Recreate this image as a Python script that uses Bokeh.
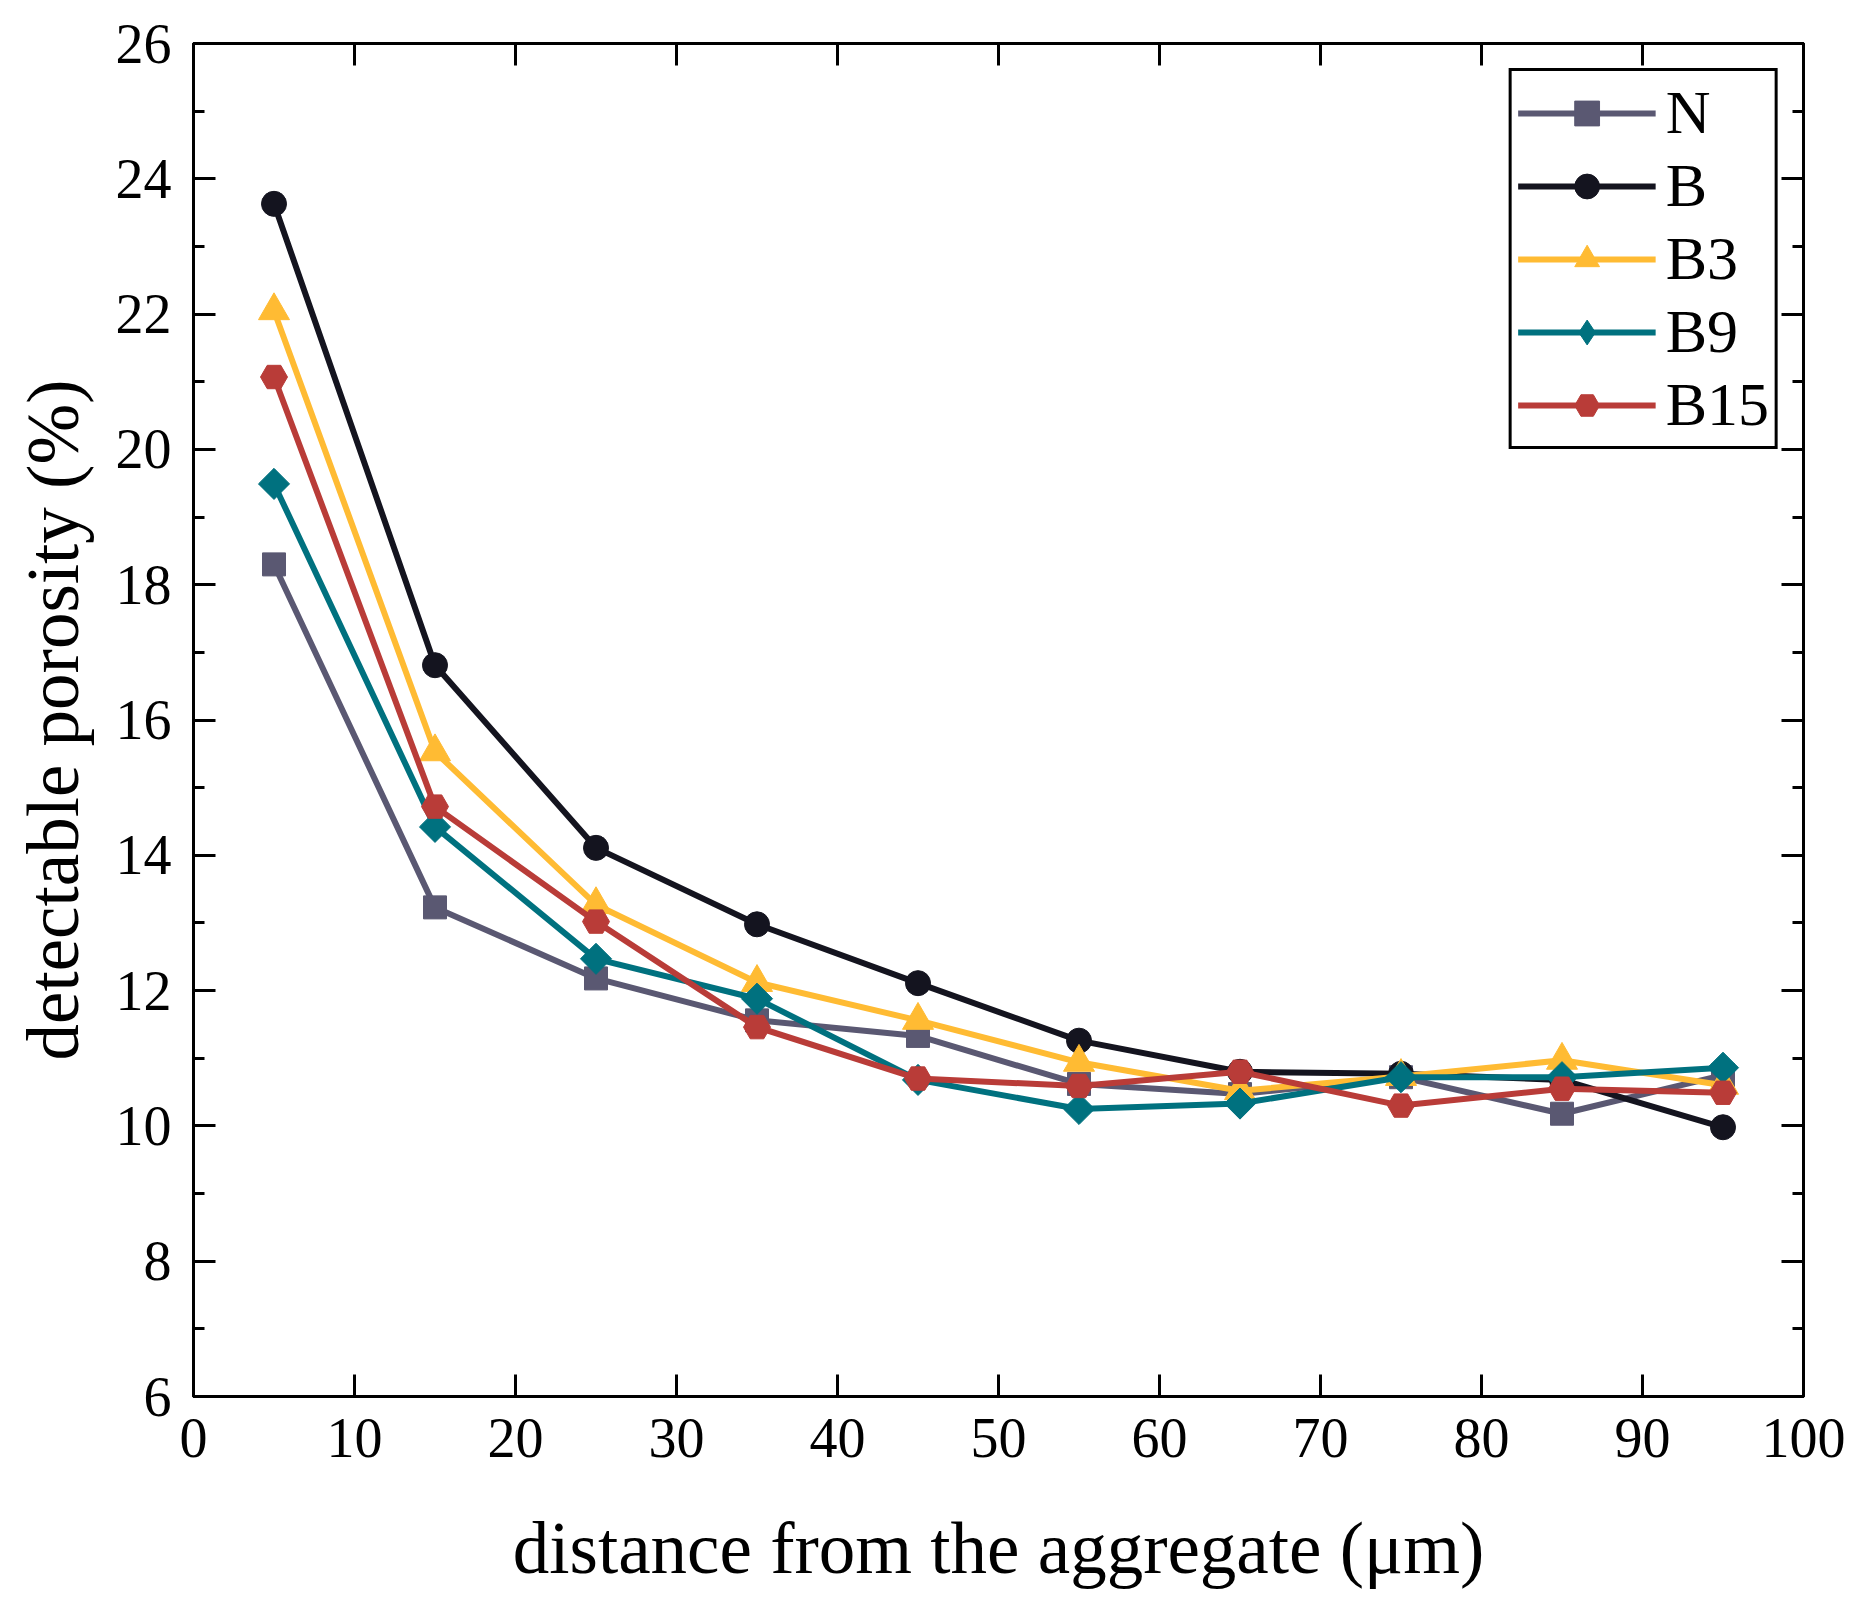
import numpy as np
from bokeh.plotting import figure
from bokeh.models import (LinearAxis, SingleIntervalTicker, Range1d, Legend,
                          CustomLabelingPolicy)
from bokeh.embed import file_html
from bokeh.resources import INLINE

# distance from the aggregate (um) and porosity (%) per mix
distance = [5, 15, 25, 35, 45, 55, 65, 75, 85, 95]
n_vals = [18.30, 13.23, 12.18, 11.56, 11.33, 10.62, 10.47, 10.72, 10.18, 10.75]
b_vals = [23.63, 16.81, 14.11, 12.98, 12.11, 11.26, 10.80, 10.77, 10.68, 9.98]
b3_vals = [22.05, 15.53, 13.27, 12.12, 11.56, 10.94, 10.52, 10.73, 10.97, 10.60]
b9_vals = [19.49, 14.42, 12.47, 11.88, 10.68, 10.25, 10.33, 10.72, 10.72, 10.86]
b15_vals = [21.07, 14.72, 13.02, 11.46, 10.70, 10.59, 10.80, 10.30, 10.55, 10.49]

# name, values, colour, marker, size, angle, legend marker
series = [
    ("N", n_vals, "#5a5872", "square", 23, 0, None),
    ("B", b_vals, "#14141f", "circle", 25, 0, None),
    ("B3", b3_vals, "#ffbb33", "triangle", 31, 0, None),
    ("B9", b9_vals, "#00717f", "square", 22, np.pi / 4, "diamond"),
    ("B15", b15_vals, "#b93c38", "hex", 27, 0, None),
]

FONT = "Liberation Serif"

p = figure(frame_width=1610, frame_height=1353,
           min_border_left=193, min_border_top=43, min_border_right=50, min_border_bottom=200,
           x_range=Range1d(0, 100), y_range=Range1d(6, 26),
           output_backend="svg", toolbar_location=None,
           x_axis_label="distance from the aggregate (\u03bcm)",
           y_axis_label="detectable porosity (%)")
p.xgrid.visible = False
p.ygrid.visible = False
p.outline_line_color = "black"
p.outline_line_width = 3
p.background_fill_color = "white"
p.border_fill_color = "white"

xtick = SingleIntervalTicker(interval=10, num_minor_ticks=0)
ytick = SingleIntervalTicker(interval=2, num_minor_ticks=2)
p.xaxis.ticker = xtick
p.yaxis.ticker = ytick

p.add_layout(LinearAxis(ticker=xtick), "above")
p.add_layout(LinearAxis(ticker=ytick), "right")

for ax in p.axis:
    ax.axis_line_width = 3
    ax.axis_line_color = "black"
    ax.major_tick_line_width = 3
    ax.minor_tick_line_width = 3
    ax.major_tick_in = 22
    ax.major_tick_out = 0
    ax.minor_tick_in = 11
    ax.minor_tick_out = 0
    ax.major_label_text_font = FONT
    ax.major_label_text_font_size = "56px"
    ax.major_label_text_color = "black"
    ax.axis_label_text_font = FONT
    ax.axis_label_text_font_size = "73px"
    ax.axis_label_text_font_style = "normal"
    ax.axis_label_text_color = "black"

# mirror axes: ticks only, no labels
no_labels = CustomLabelingPolicy(code="return []")
for ax in p.above + p.right:
    ax.major_label_policy = no_labels
    ax.major_label_text_font_size = "1px"
    ax.major_label_standoff = 0

bottom = p.below[0]
left = p.left[0]
bottom.minor_tick_line_color = None
bottom.major_label_standoff = 22
bottom.axis_label_standoff = 48
left.major_label_standoff = 22
left.axis_label_standoff = 19

items = []
for name, vals, color, marker, size, angle, leg_marker in series:
    r1 = p.line(distance, vals, line_color=color, line_width=6)
    swatch = None
    if leg_marker:
        # legend markers ignore the angle, so a plain diamond (hidden under
        # the rotated squares) stands in for the legend swatch
        swatch = p.scatter(distance, vals, marker=leg_marker, size=size,
                           fill_color=color, line_color=color)
    r2 = p.scatter(distance, vals, marker=marker, size=size, angle=angle,
                   fill_color=color, line_color=color)
    items.append((name, [r1, swatch or r2]))

legend = Legend(items=items, location="top_right")
legend.margin = 25
legend.padding = 6
legend.spacing = 2
legend.glyph_width = 138
legend.glyph_height = 62
legend.label_height = 60
legend.label_standoff = 10
legend.label_text_font = FONT
legend.label_text_font_size = "62px"
legend.label_text_color = "black"
legend.border_line_color = "black"
legend.border_line_alpha = 1
legend.border_line_width = 3
legend.background_fill_color = "white"
legend.background_fill_alpha = 1
p.add_layout(legend, "center")

open("out.html", "w").write(file_html(p, INLINE))
